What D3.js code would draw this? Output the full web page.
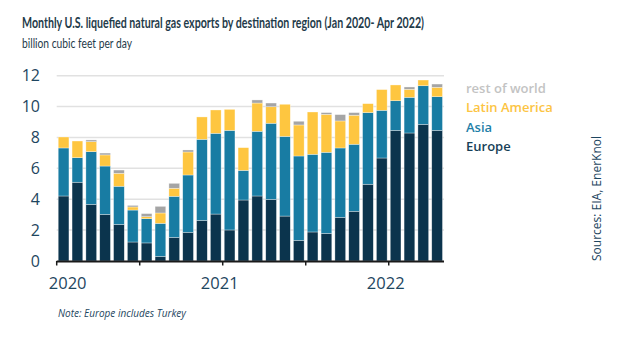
<!DOCTYPE html>
<html>
<head>
<meta charset="utf-8">
<script src="https://cdn.jsdelivr.net/npm/d3@7"></script>
<style>
    body { margin: 0; background: #fff; }
    text { font-family: "Open Sans", "Noto Sans", sans-serif; }
</style>
</head>
<body>
<div id="chart"></div>
<script>
// monthly values, Jan 2020 - Apr 2022 (billion cubic feet per day)
var months = ['2020-01', '2020-02', '2020-03', '2020-04', '2020-05', '2020-06', '2020-07', '2020-08', '2020-09', '2020-10', '2020-11', '2020-12',
              '2021-01', '2021-02', '2021-03', '2021-04', '2021-05', '2021-06', '2021-07', '2021-08', '2021-09', '2021-10', '2021-11', '2021-12',
              '2022-01', '2022-02', '2022-03', '2022-04'];
var europe = [4.21, 5.10, 3.67, 3.02, 2.37, 1.23, 1.17, 0.30, 1.53, 1.86, 2.63, 3.04,
              2.01, 3.95, 4.21, 3.99, 2.91, 1.34, 1.88, 1.79, 2.83, 3.22, 4.97, 6.67,
              8.46, 8.29, 8.85, 8.46];
var asia = [3.11, 1.59, 3.41, 3.13, 2.47, 2.07, 1.57, 2.14, 2.66, 3.71, 5.25, 5.23,
            6.45, 1.92, 4.19, 4.93, 5.16, 5.46, 5.03, 5.25, 4.49, 4.34, 4.64, 3.09,
            1.92, 2.31, 2.50, 2.18];
var latin_america = [0.71, 1.08, 0.65, 0.72, 0.84, 0.20, 0.13, 0.67, 0.52, 1.49, 1.45, 1.51,
                     1.36, 1.47, 1.83, 1.07, 2.08, 2.01, 2.74, 2.46, 1.75, 1.88, 0.58, 1.34,
                     1.02, 0.52, 0.37, 0.61];
var rest_of_world = [0, 0, 0.11, 0.12, 0.21, 0.10, 0.20, 0.43, 0.32, 0.13, 0, 0,
                     0, 0, 0.20, 0.24, 0, 0.24, 0, 0.11, 0.41, 0.17, 0, 0,
                     0, 0.15, 0, 0.21];
var year_ticks = ['2020', '2021', '2022'];
var y_ticks = [0, 2, 4, 6, 8, 10, 12];

var series_names = ['europe', 'asia', 'latin_america', 'rest_of_world'];
var series_labels = {europe: 'Europe', asia: 'Asia', latin_america: 'Latin America', rest_of_world: 'rest of world'};
var colors = {europe: '#0b344d', asia: '#187ca3', latin_america: '#fec640', rest_of_world: '#a5a5a5'};
var legend_colors = {europe: '#173f58', asia: '#1f7fa8', latin_america: '#fcc443', rest_of_world: '#c3c3c3'};
var text_color = '#1e4660';

let width = 625, height = 337;
let margin = {top: 75.7, left: 56.7, bottom: 76, right: 181};

let rows = months.map(function(m, i) {
    return {month: m, europe: europe[i], asia: asia[i], latin_america: latin_america[i], rest_of_world: rest_of_world[i]};
});

let svg = d3.select('#chart').append('svg')
    .attr('width', width)
    .attr('height', height);

let x = d3.scaleBand()
    .domain(months)
    .range([margin.left, width - margin.right])
    .paddingInner(0.225)
    .paddingOuter(0.11);

let y = d3.scaleLinear()
    .domain([0, 12])
    .range([height - margin.bottom, margin.top]);

// title
svg.append('text')
    .attr('x', 22).attr('y', 28)
    .style('font-family', 'Lato, sans-serif')
    .style('font-size', '14.5px')
    .style('font-weight', 700)
    .style('fill', '#1f3b4a')
    .attr('textLength', 402)
    .attr('lengthAdjust', 'spacingAndGlyphs')
    .text('Monthly U.S. liquefied natural gas exports by destination region (Jan 2020- Apr 2022)');

svg.append('text')
    .attr('x', 22).attr('y', 48)
    .style('font-family', 'Lato, sans-serif')
    .style('font-size', '13.5px')
    .style('fill', '#1f3b4a')
    .attr('textLength', 110)
    .attr('lengthAdjust', 'spacingAndGlyphs')
    .text('billion cubic feet per day');

// gridlines
svg.append('g')
    .selectAll('line')
    .data(y_ticks.slice(1))
    .enter().append('line')
    .attr('x1', margin.left)
    .attr('x2', width - margin.right)
    .attr('y1', function(d) { return y(d); })
    .attr('y2', function(d) { return y(d); })
    .attr('stroke', '#e1e1e1')
    .attr('stroke-width', 1.5);

// y labels
svg.append('g')
    .selectAll('text')
    .data(y_ticks)
    .enter().append('text')
    .attr('x', 40)
    .attr('y', function(d) { return y(d); })
    .attr('dy', '0.36em')
    .attr('text-anchor', 'end')
    .style('font-size', '16px')
    .style('fill', text_color)
    .text(function(d) { return d; });

// stacked bars
let stack = d3.stack().keys(series_names);
let layers = stack(rows);

svg.append('g')
    .selectAll('g')
    .data(layers)
    .enter().append('g')
    .attr('fill', function(d) { return colors[d.key]; })
    .selectAll('rect')
    .data(function(d) { return d.filter(function(p) { return p[1] > p[0]; }); })
    .enter().append('rect')
    .attr('x', function(d) { return x(d.data.month); })
    .attr('y', function(d) { return y(d[1]); })
    .attr('width', x.bandwidth())
    .attr('height', function(d) { return y(d[0]) - y(d[1]); })
    .attr('stroke', 'rgba(255,255,255,0.55)')
    .attr('stroke-width', 0.6);

// x axis line and half-year ticks
let step = x.step();
let tick_months = months.filter(function(m) { return m.slice(5) === '01' || m.slice(5) === '07'; });
let x_left = function(m) { return margin.left + months.indexOf(m) * step; };

svg.append('line')
    .attr('x1', margin.left)
    .attr('x2', width - margin.right)
    .attr('y1', y(0) + 0.5)
    .attr('y2', y(0) + 0.5)
    .attr('stroke', '#1a1a1a')
    .attr('stroke-width', 2);

svg.append('g')
    .selectAll('line')
    .data(tick_months)
    .enter().append('line')
    .attr('x1', function(d) { return x_left(d); })
    .attr('x2', function(d) { return x_left(d); })
    .attr('y1', y(0))
    .attr('y2', y(0) + 4.5)
    .attr('stroke', '#1a1a1a')
    .attr('stroke-width', 1.5);

svg.append('g')
    .selectAll('text')
    .data(year_ticks)
    .enter().append('text')
    .attr('x', function(d, i) { return x_left(d + '-01') + (i === 0 ? 11 : -3); })
    .attr('y', y(0) + 28)
    .attr('text-anchor', 'middle')
    .style('font-size', '16.5px')
    .style('fill', text_color)
    .text(function(d) { return d; });

// legend
let legend_order = ['rest_of_world', 'latin_america', 'asia', 'europe'];
svg.append('g')
    .selectAll('text')
    .data(legend_order)
    .enter().append('text')
    .attr('x', 466)
    .attr('y', function(d, i) { return 88 + i * 19.5; })
    .attr('dy', '0.35em')
    .style('font-size', '13px')
    .style('font-weight', 600)
    .style('fill', function(d) { return legend_colors[d]; })
    .text(function(d) { return series_labels[d]; });

// source
svg.append('text')
    .attr('transform', 'translate(601,261) rotate(-90)')
    .style('font-size', '12px')
    .style('fill', text_color)
    .text('Sources: EIA, EnerKnol');

// note
svg.append('text')
    .attr('x', 58).attr('y', 317)
    .style('font-size', '10px')
    .style('font-style', 'italic')
    .style('fill', text_color)
    .text('Note: Europe includes Turkey');
</script>
</body>
</html>
